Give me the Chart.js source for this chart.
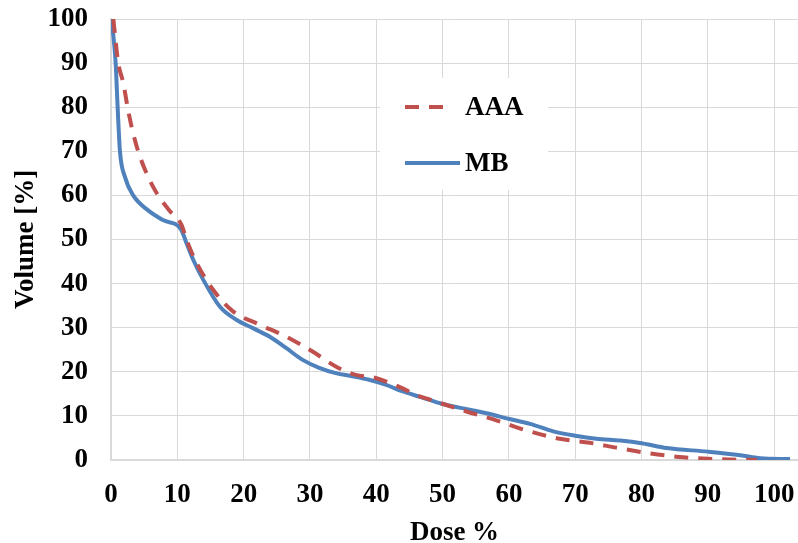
<!DOCTYPE html>
<html>
<head>
<meta charset="utf-8">
<script src="https://cdn.jsdelivr.net/npm/chart.js@4.4.1/dist/chart.umd.min.js"></script>
<style>
  html, body { margin: 0; padding: 0; background: #ffffff; }
  #wrap { position: relative; width: 798px; height: 543px; }
</style>
</head>
<body>
<div id="wrap"><canvas id="dvhChart" width="798" height="543"></canvas></div>
<script>
        // dose-volume points
        const seriesNames = ['AAA', 'MB'];

        const aaaDose = [0.35, 1.1, 1.85, 2.5, 3.1, 4.1, 5.6, 7.1, 8.8, 10.6, 11.5, 12.9, 15.4, 18.4, 22.4, 26.4, 30.4, 33.9, 36.9, 39.9, 43.9, 45.9, 48.1, 53.6, 58.1, 62.7, 67.7, 72.2, 76.2, 81.3, 86.3, 91.3, 97.4];
        const aaaVolume = [100, 90, 85.5, 80, 75.6, 70, 64.2, 60, 56.6, 53.4, 49.5, 44.7, 38.6, 33.7, 30.7, 28.0, 24.6, 21.2, 19.3, 18.6, 16.3, 14.8, 13.7, 11.0, 9.0, 6.7, 4.8, 3.9, 2.8, 1.5, 0.6, 0.2, 0];

        const mbDose = [0.1, 0.7, 1.0, 1.35, 2.1, 3.35, 5.6, 7.85, 10.6, 11.3, 12.4, 13.9, 16.4, 18.9, 21.4, 23.9, 26.4, 28.9, 31.4, 33.9, 36.4, 38.9, 41.4, 43.9, 46.6, 50, 54.1, 56.6, 60.1, 63.2, 66.7, 70, 73.2, 76.8, 80, 83.8, 90, 94.9, 97.9, 102.4];
        const mbVolume = [100, 90, 80, 70, 64.2, 60, 56.6, 54.4, 52.2, 49.5, 45.4, 40.9, 34.8, 31.8, 29.9, 28.0, 25.4, 22.7, 20.9, 19.7, 19.0, 18.2, 17.1, 15.6, 14.3, 12.7, 11.4, 10.6, 9.3, 8.2, 6.5, 5.5, 4.8, 4.4, 3.8, 2.7, 1.9, 1.1, 0.4, 0.2];

        const toPoints = (xs, ys) => xs.map((x, i) => ({ x: x, y: ys[i] }));

        const fontFamily = "'Liberation Serif', 'Times New Roman', serif";
        const gridGray = '#d9d9d9';

        // legend sits inside the plot on a white box
        const insideLegend = {
            id: 'insideLegend',
            afterDatasetsDraw(chart) {
                const ctx = chart.ctx;
                ctx.save();
                ctx.fillStyle = '#ffffff';
                ctx.fillRect(380, 78, 168, 112);
                const rows = [107, 163];
                chart.data.datasets.forEach((ds, i) => {
                    const y = rows[i];
                    ctx.beginPath();
                    ctx.strokeStyle = ds.borderColor;
                    ctx.lineWidth = ds.borderWidth;
                    ctx.setLineDash(ds.borderDash || []);
                    ctx.moveTo(405, y);
                    ctx.lineTo(i === 0 ? 453 : 460, y);
                    ctx.stroke();
                    ctx.setLineDash([]);
                    ctx.fillStyle = '#000000';
                    ctx.font = 'bold 27px ' + fontFamily;
                    ctx.textBaseline = 'middle';
                    ctx.textAlign = 'left';
                    ctx.fillText(ds.label, 465, y + 1);
                });
                ctx.restore();
            }
        };

        const ctx = document.getElementById('dvhChart').getContext('2d');
        const dvhChart = new Chart(ctx, {
            type: 'line',
            data: {
                datasets: [
                    {
                        label: seriesNames[0],
                        data: toPoints(aaaDose, aaaVolume),
                        borderColor: '#C0504D',
                        borderWidth: 4,
                        borderDash: [14, 10],
                        pointRadius: 0,
                        fill: false,
                        cubicInterpolationMode: 'monotone'
                    },
                    {
                        label: seriesNames[1],
                        data: toPoints(mbDose, mbVolume),
                        borderColor: '#4F81BD',
                        borderWidth: 4,
                        pointRadius: 0,
                        fill: false,
                        cubicInterpolationMode: 'monotone'
                    }
                ]
            },
            options: {
                responsive: false,
                animation: false,
                layout: { padding: { top: 19, right: 0, bottom: 0, left: 0 } },
                plugins: {
                    legend: { display: false },
                    tooltip: { enabled: false }
                },
                scales: {
                    x: {
                        type: 'linear',
                        min: 0,
                        max: 103.6,
                        afterFit: scale => {
                            scale.height = 83;
                            scale.paddingLeft = 0;
                            scale.paddingRight = 0;
                        },
                        ticks: {
                            stepSize: 10,
                            includeBounds: false,
                            autoSkip: false,
                            color: '#000000',
                            padding: 19,
                            maxRotation: 0,
                            font: { family: fontFamily, size: 27, weight: 'bold' }
                        },
                        grid: { color: gridGray, lineWidth: 1, drawTicks: false },
                        border: { color: gridGray, width: 1.5 },
                        title: {
                            display: true,
                            text: 'Dose %',
                            color: '#000000',
                            padding: { top: 0, bottom: 0 },
                            font: { family: fontFamily, size: 27, weight: 'bold', lineHeight: 0.75 }
                        }
                    },
                    y: {
                        min: 0,
                        max: 100,
                        afterFit: scale => {
                            scale.width = 111;
                            scale.paddingTop = 0;
                            scale.paddingBottom = 0;
                        },
                        ticks: {
                            stepSize: 10,
                            color: '#000000',
                            padding: 23,
                            font: { family: fontFamily, size: 27, weight: 'bold' }
                        },
                        grid: { color: gridGray, lineWidth: 1, drawTicks: false },
                        border: { color: gridGray, width: 1.5 },
                        title: {
                            display: true,
                            text: 'Volume [%]',
                            color: '#000000',
                            padding: { top: 15, bottom: 0 },
                            font: { family: fontFamily, size: 27, weight: 'bold', lineHeight: 0.8 }
                        }
                    }
                }
            },
            plugins: [insideLegend]
        });
</script>
</body>
</html>
